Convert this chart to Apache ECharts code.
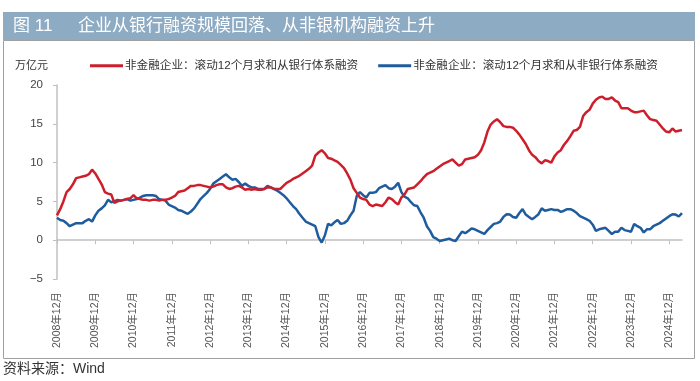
<!DOCTYPE html>
<html>
<head>
<meta charset="utf-8">
<script src="https://cdn.jsdelivr.net/npm/echarts@6/dist/echarts.min.js"></script>
<style>
html,body{margin:0;padding:0;background:#fff;}
#c{width:700px;height:381px;}
</style>
</head>
<body>
<div id="c"></div>
<script>
// Months from 2008-12 to 2025-04
const startYear = 2008, startMonth = 12, monthCount = 197;
const seriesNames = ['非金融企业：滚动12个月求和从银行体系融资', '非金融企业：滚动12个月求和从非银行体系融资'];
const yTicks = [-5, 0, 5, 10, 15, 20];

const bankFinancing = [
  3.2, 4.0, 5.0, 6.2, 6.6, 7.2, 8.0, 8.1, 8.2, 8.3, 8.5, 9.1,
  8.6, 7.9, 7.2, 6.2, 6.0, 5.9, 4.8, 5.0, 5.1, 5.2, 5.3, 5.4,
  5.8, 5.4, 5.3, 5.2, 5.2, 5.1, 5.2, 5.2, 5.1, 5.2, 5.2, 5.3,
  5.5, 5.7, 6.2, 6.3, 6.4, 6.7, 7.0, 7.0, 7.1, 7.1, 7.0, 6.9,
  6.8, 6.9, 7.1, 7.2, 7.2, 6.8, 6.6, 6.7, 6.9, 7.0, 6.8, 6.5,
  6.6, 6.5, 6.6, 6.5, 6.5, 6.6, 6.8, 6.8, 6.6, 6.6, 6.6, 7.0,
  7.4, 7.6, 7.9, 8.1, 8.3, 8.6, 8.9, 9.2, 9.6, 10.9, 11.3, 11.6,
  11.2, 10.6, 10.5, 10.3, 10.1, 9.7, 9.3, 8.6, 7.8, 6.7, 6.1, 5.5,
  5.3, 5.2, 4.6, 4.4, 4.6, 4.5, 4.4, 4.9, 5.5, 5.3, 4.9, 4.6,
  5.5, 5.9, 6.6, 6.7, 6.8, 7.2, 7.6, 8.1, 8.5, 8.7, 8.9, 9.2,
  9.5, 9.8, 10.0, 10.2, 10.4, 10.0, 9.6, 9.8, 10.4, 10.5, 10.6, 10.7,
  11.0, 11.6, 12.6, 14.0, 14.9, 15.3, 15.6, 15.2, 14.7, 14.6, 14.6, 14.5,
  14.1, 13.6, 13.0, 12.4, 11.6, 11.0, 10.7, 10.2, 9.9, 10.3, 10.2, 10.0,
  10.8, 11.3, 11.6, 12.3, 12.8, 13.4, 14.1, 14.2, 14.6, 16.0, 16.5, 16.8,
  17.6, 18.1, 18.4, 18.5, 18.2, 18.2, 18.4, 18.0, 17.8, 17.0, 17.0, 17.0,
  16.7, 16.5, 16.5, 16.6, 16.7, 16.1, 15.6, 15.5, 15.4, 14.9, 14.4, 14.0,
  13.9, 14.4, 14.0, 14.1, 14.2
];

const nonBankFinancing = [
  2.9, 2.6, 2.5, 2.2, 1.8, 2.0, 2.2, 2.2, 2.2, 2.5, 2.7, 2.4,
  3.2, 3.8, 4.1, 4.5, 5.2, 4.9, 5.0, 5.2, 5.1, 5.2, 5.3, 5.1,
  5.2, 5.3, 5.5, 5.7, 5.8, 5.8, 5.8, 5.7, 5.3, 5.2, 5.1, 4.6,
  4.4, 4.2, 3.9, 3.8, 3.6, 3.4, 3.7, 4.1, 4.7, 5.3, 5.7, 6.1,
  6.6, 7.3, 7.6, 7.9, 8.2, 8.5, 8.1, 7.8, 7.9, 7.5, 7.0, 7.3,
  7.0, 6.8, 6.8, 6.6, 6.6, 6.6, 7.0, 6.8, 6.6, 6.4, 6.1, 5.8,
  5.4, 4.9, 4.4, 4.0, 3.4, 2.9, 2.4, 2.2, 2.0, 1.8, 0.4, -0.3,
  0.6, 2.1, 1.9, 2.3, 2.6, 2.1, 2.2, 2.5, 3.2, 3.8, 5.7, 6.2,
  5.8, 5.5, 6.1, 6.1, 6.2, 6.7, 6.9, 7.1, 6.7, 6.6, 6.9, 7.4,
  6.2, 5.6, 5.4, 4.9, 4.5, 4.4, 3.6, 2.9, 1.8, 1.2, 0.4, 0.2,
  -0.1, 0.0, 0.1, 0.2, 0.0, -0.1, 0.5, 1.1, 0.9, 1.2, 1.5, 1.4,
  1.2, 1.0, 0.8, 1.3, 1.7, 2.1, 2.2, 2.4, 3.0, 3.35, 3.3, 3.0,
  2.9, 3.5, 4.0, 3.3, 3.0, 2.7, 3.0, 3.35, 4.1, 3.8, 3.9, 4.0,
  3.9, 3.9, 3.65, 3.8, 4.0, 4.0, 3.8, 3.5, 3.1, 2.9, 2.7, 2.5,
  2.0, 1.2, 1.4, 1.5, 1.6, 1.2, 0.8, 1.1, 1.1, 1.6, 1.3, 1.2,
  1.1, 2.1, 1.8, 1.6, 1.0, 1.4, 1.4, 1.8, 2.0, 2.2, 2.5, 2.8,
  3.1, 3.35, 3.3, 3.05, 3.5
];

const categories = [];
for (let i = 0; i < monthCount; i++) {
  const t = (startYear * 12 + (startMonth - 1)) + i;
  const y = Math.floor(t / 12), m = t % 12 + 1;
  categories.push(y + '年' + m + '月');
}
const isYearTick = (idx) => idx % 12 === 0;

const FONT = '"Liberation Sans", "Noto Sans CJK SC", sans-serif';
const chart = echarts.init(document.getElementById('c'), null, {renderer: 'canvas'});
chart.setOption({
  animation: false,
  backgroundColor: '#fff',
  textStyle: {fontFamily: FONT},
  grid: {left: 57, right: 18, top: 85, bottom: 102},
  legend: {
    data: seriesNames,
    left: 85, top: 55,
    icon: 'rect', itemWidth: 33, itemHeight: 3, itemGap: 20,
    textStyle: {fontSize: 11.6, color: '#333', fontFamily: FONT, padding: [0, 0, 0, -3]}
  },
  xAxis: [
    {
      type: 'category', data: categories, boundaryGap: false, position: 'bottom',
      axisLine: {onZero: true, lineStyle: {color: '#c0c0c0', width: 1.5}},
      axisTick: {show: true, interval: isYearTick, length: 4, lineStyle: {color: '#c0c0c0'}},
      axisLabel: {show: false}, splitLine: {show: false}
    },
    {
      type: 'category', data: categories, boundaryGap: false, position: 'bottom',
      axisLine: {show: false, onZero: false}, axisTick: {show: false}, splitLine: {show: false},
      axisLabel: {
        interval: isYearTick, rotate: 90, margin: 13, fontSize: 10.5, color: '#555', fontFamily: FONT,
        formatter: (v) => v
      }
    }
  ],
  yAxis: {
    type: 'value', min: yTicks[0], max: yTicks[yTicks.length - 1], interval: 5,
    axisLine: {show: true, lineStyle: {color: '#c0c0c0', width: 1.5}},
    axisTick: {show: true, length: 4, lineStyle: {color: '#c0c0c0'}},
    splitLine: {show: false},
    axisLabel: {fontSize: 11.5, color: '#444', margin: 14, fontFamily: FONT,
      formatter: (v) => String(v).replace('-', '−')}
  },
  series: [
    {name: seriesNames[0], type: 'line', data: bankFinancing, showSymbol: false, xAxisIndex: 0,
      lineStyle: {color: '#cc1f2b', width: 2.5}, itemStyle: {color: '#cc1f2b'}, z: 3},
    {name: seriesNames[1], type: 'line', data: nonBankFinancing, showSymbol: false, xAxisIndex: 0,
      lineStyle: {color: '#1f5c9e', width: 2.5}, itemStyle: {color: '#1f5c9e'}, z: 2}
  ],
  graphic: [
    {type: 'rect', shape: {x: 3, y: 12, width: 692, height: 28}, style: {fill: '#8eabc4'}, silent: true},
    {type: 'text', x: 13, y: 26, style: {text: '图 11', fill: '#fff', font: '17px ' + FONT, textVerticalAlign: 'middle'}},
    {type: 'text', x: 78, y: 26, style: {text: '企业从银行融资规模回落、从非银机构融资上升', fill: '#fff', font: '17px ' + FONT, textVerticalAlign: 'middle'}},
    {type: 'rect', shape: {x: 3.5, y: 40.5, width: 691, height: 318}, style: {fill: 'none', stroke: '#a0a0a0', lineWidth: 1}, silent: true},
    {type: 'text', x: 15, y: 66, style: {text: '万亿元', fill: '#333', font: '11px ' + FONT, textVerticalAlign: 'middle'}},
    {type: 'text', x: 3, y: 369, style: {text: '资料来源：Wind', fill: '#333', font: '14px ' + FONT, textVerticalAlign: 'middle'}}
  ]
});
</script>
</body>
</html>
